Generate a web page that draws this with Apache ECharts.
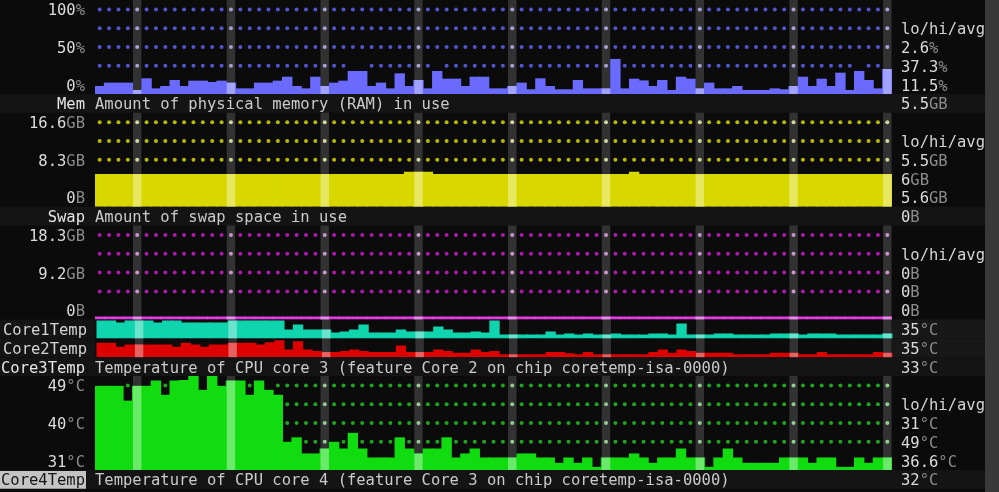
<!DOCTYPE html>
<html>
<head>
<meta charset="utf-8">
<script src="https://cdn.jsdelivr.net/npm/echarts@6/dist/echarts.min.js"></script>
<style>
  html, body { margin: 0; padding: 0; background: #0b0b0b; }
  #chart { width: 999px; height: 492px; }
</style>
</head>
<body>
<div id="chart"></div>
<script>
// one value per terminal column (85 columns), newest on the right
const cpuUsage = [
  8.5, 12.1, 12.1, 12.1, 4.3, 16.7, 6.0, 8.5, 14.9, 8.5,
  14.2, 14.2, 12.8, 14.2, 12.1, 6.0, 6.0, 12.1, 12.1, 14.2,
  18.4, 8.5, 6.0, 18.4, 8.5, 12.1, 14.2, 24.5, 24.5, 8.5,
  12.1, 6.0, 22.0, 8.5, 14.9, 6.0, 24.5, 16.3, 16.3, 8.5,
  18.4, 18.4, 6.0, 6.0, 8.5, 12.1, 5.0, 16.7, 8.5, 5.0,
  5.0, 14.9, 6.0, 6.0, 6.0, 37.3, 6.0, 16.3, 14.5, 8.5,
  14.9, 4.3, 18.4, 16.3, 6.0, 12.1, 6.0, 6.0, 8.5, 4.3,
  4.3, 4.3, 6.0, 5.0, 8.5, 18.4, 8.5, 16.3, 8.5, 22.7,
  4.3, 24.5, 14.9, 6.0, 26.6
];
const memUsed = [
  5.6, 5.6, 5.6, 5.6, 5.6, 5.6, 5.6, 5.6, 5.6, 5.6,
  5.6, 5.6, 5.6, 5.6, 5.6, 5.6, 5.6, 5.6, 5.6, 5.6,
  5.6, 5.6, 5.6, 5.6, 5.6, 5.6, 5.6, 5.6, 5.6, 5.6,
  5.6, 5.6, 5.6, 6.0, 6.0, 6.0, 5.6, 5.6, 5.6, 5.6,
  5.6, 5.6, 5.6, 5.6, 5.6, 5.6, 5.6, 5.6, 5.6, 5.6,
  5.6, 5.6, 5.6, 5.6, 5.6, 5.6, 5.6, 6.0, 5.6, 5.6,
  5.6, 5.6, 5.6, 5.6, 5.6, 5.6, 5.6, 5.6, 5.6, 5.6,
  5.6, 5.6, 5.6, 5.6, 5.6, 5.6, 5.6, 5.6, 5.6, 5.6,
  5.6, 5.6, 5.6, 5.6, 5.6
];
const swapUsed = [
  0, 0, 0, 0, 0, 0, 0, 0, 0, 0,
  0, 0, 0, 0, 0, 0, 0, 0, 0, 0,
  0, 0, 0, 0, 0, 0, 0, 0, 0, 0,
  0, 0, 0, 0, 0, 0, 0, 0, 0, 0,
  0, 0, 0, 0, 0, 0, 0, 0, 0, 0,
  0, 0, 0, 0, 0, 0, 0, 0, 0, 0,
  0, 0, 0, 0, 0, 0, 0, 0, 0, 0,
  0, 0, 0, 0, 0, 0, 0, 0, 0, 0,
  0, 0, 0, 0, 0
];
const core1Temp = [
  48, 48, 46, 48, 48, 48, 46, 48, 48, 46,
  46, 46, 46, 46, 48, 48, 48, 48, 48, 48,
  39, 44, 39, 39, 39, 36, 37, 39, 44, 36,
  36, 36, 39, 37, 37, 37, 42, 39, 36, 36,
  37, 36, 48, 34, 34, 34, 34, 34, 37, 34,
  35, 34, 35, 34, 34, 35, 34, 34, 34, 35,
  35, 34, 45, 34, 34, 34, 35, 35, 34, 34,
  34, 34, 35, 35, 35, 34, 35, 35, 35, 34,
  34, 34, 34, 34, 35
];
const core2Temp = [
  44.5, 44.5, 40.5, 42.9, 42.9, 42.9, 42.9, 42.9, 40.5, 44.5,
  42.9, 40.5, 42.9, 42.9, 44.5, 44.5, 44.5, 42.9, 45.2, 47.2,
  37.9, 46.2, 37.9, 36.2, 35.2, 35.2, 36.2, 37.9, 36.2, 35.2,
  35.2, 35.2, 41.9, 35.2, 35.2, 35.2, 37.9, 36.2, 34.5, 34.5,
  37.9, 35.2, 36.2, 32.9, 32.9, 32.9, 32.9, 32.9, 35.2, 35.2,
  33.9, 32.9, 35.2, 32.9, 32.9, 32.9, 32.9, 32.9, 32.9, 35.2,
  37.9, 34.5, 37.9, 36.2, 34.5, 34.5, 34.5, 34.5, 32.9, 32.9,
  32.9, 32.9, 34.5, 34.5, 34.5, 32.9, 32.9, 35.2, 32.9, 32.9,
  32.9, 32.9, 32.9, 35.2, 34.5
];
const core3Temp = [
  46.8, 46.8, 46.8, 43.5, 46.8, 46.8, 48.0, 44.8, 48.0, 48.1,
  49.0, 45.9, 49.0, 46.8, 48.0, 48.0, 44.8, 48.0, 45.9, 44.8,
  34.3, 35.3, 31.7, 31.7, 32.8, 34.3, 32.8, 36.3, 32.8, 30.8,
  30.8, 30.8, 35.3, 32.8, 31.7, 32.8, 32.8, 35.3, 30.8, 31.7,
  32.8, 30.8, 30.8, 30.8, 30.8, 31.7, 31.7, 30.8, 30.8, 29.6,
  30.8, 29.6, 30.8, 28.7, 30.8, 30.8, 30.8, 31.7, 30.8, 29.6,
  30.8, 30.8, 32.8, 30.8, 30.8, 28.7, 30.8, 32.8, 30.8, 29.6,
  29.6, 29.6, 29.6, 30.8, 30.8, 30.8, 29.6, 30.8, 30.8, 28.7,
  28.7, 30.8, 29.6, 30.8, 30.8
];

// time markers (highlighted columns)
const stripeColumns = [4, 14, 24, 34, 44, 54, 64, 74, 84];

// axis labels, one entry per text row of a panel (top to bottom)
const cpuTicks = ['100%', '', '50%', '', '0%'];
const memTicks = ['16.6GB', '', '8.3GB', '', '0B'];
const swapTicks = ['18.3GB', '', '9.2GB', '', '0B'];
const tempTicks = ['49°C', '', '40°C', '', '31°C'];

const cpuStats = ['', 'lo/hi/avg', '2.6%', '37.3%', '11.5%'];
const memStats = ['', 'lo/hi/avg', '5.5GB', '6GB', '5.6GB'];
const swapStats = ['', 'lo/hi/avg', '0B', '0B', '0B'];
const core3Stats = ['', 'lo/hi/avg', '31°C', '49°C', '36.6°C'];

const headers = [
  {row: 5, name: 'Mem', desc: 'Amount of physical memory (RAM) in use', value: '5.5GB'},
  {row: 11, name: 'Swap', desc: 'Amount of swap space in use', value: '0B'},
  {row: 19, name: 'Core3Temp', desc: 'Temperature of CPU core 3 (feature Core 2 on chip coretemp-isa-0000)', value: '33°C'},
  {row: 25, name: 'Core4Temp', desc: 'Temperature of CPU core 4 (feature Core 3 on chip coretemp-isa-0000)', value: '32°C', selected: true}
];

const ROW_H = 18.8;
const PLOT_LEFT = 95;
const PLOT_WIDTH = 797;
const STATS_X = 901;
const FONT = 'DejaVu Sans Mono';
const FONT_SIZE = 15.5;
const TEXT_SHIFT = 2; // glyphs sit a little low in the terminal cell

const samples = cpuUsage.map((v, i) => i);

const panels = [
  {row: 0, rows: 5, data: cpuUsage, min: 0, max: 100, color: '#6a6aff', dot: '#6666ff', dotHi: '#b4b4ff', ticks: cpuTicks, stats: cpuStats},
  {row: 6, rows: 5, data: memUsed, min: 0, max: 16.1, color: '#d8d800', dot: '#e4e400', dotHi: '#ffffa8', ticks: memTicks, stats: memStats},
  {row: 12, rows: 5, data: swapUsed, min: 0, max: 18.3, color: '#e23ce2', dot: '#d41ed4', dotHi: '#f0a0f0', minH: 3, ticks: swapTicks, stats: swapStats},
  {row: 17, rows: 1, data: core1Temp, min: 30, max: 49, color: '#10d4ae', ticks: ['Core1Temp'], stats: ['35°C']},
  {row: 18, rows: 1, data: core2Temp, min: 30, max: 49, color: '#dc0000', ticks: ['Core2Temp'], stats: ['35°C']},
  {row: 20, rows: 5, data: core3Temp, min: 28, max: 49, color: '#10dc10', dot: '#22cc22', dotHi: '#9cf09c', ticks: tempTicks, stats: core3Stats}
];

const labelRich = {
  n: {color: '#dcdcdc', fill: '#dcdcdc', fontFamily: FONT, fontSize: FONT_SIZE},
  u: {color: '#8c8c8c', fill: '#8c8c8c', fontFamily: FONT, fontSize: FONT_SIZE},
  t: {color: '#d4d4d4', fill: '#d4d4d4', fontFamily: FONT, fontSize: FONT_SIZE}
};

function splitUnit(s) {
  if (!s) return '';
  const m = /^(\d[\d.]*)(\D+)$/.exec(s);
  return m ? '{n|' + m[1] + '}{u|' + m[2] + '}' : '{t|' + s + '}';
}

// columns drawn edge to edge (slight overlap hides anti-alias seams)
function columnRenderer(p) {
  return function (params, api) {
    const i = api.value(0);
    const top = api.coord([i, api.value(1)]);
    const base = api.coord([i, p.min]);
    const w = api.size([1, 0])[0];
    const h = Math.max(p.minH || 0, base[1] - top[1]);
    return {
      type: 'rect',
      shape: {x: top[0] - w / 2 - 0.5, y: base[1] - h, width: w + 1, height: h},
      style: {fill: p.color}
    };
  };
}

function getOption() {
  const grids = [], xAxes = [], yAxes = [], series = [];

  panels.forEach((p, gi) => {
    const topPx = p.row * ROW_H;
    const hPx = p.rows * ROW_H;
    grids.push({left: PLOT_LEFT, top: topPx, width: PLOT_WIDTH, height: hPx});

    xAxes.push({gridIndex: gi, type: 'category', data: samples, show: false});
    xAxes.push({gridIndex: gi, type: 'category', data: samples, show: false});

    const labelAxis = {
      gridIndex: gi, type: 'category', inverse: true,
      axisLine: {show: false}, axisTick: {show: false}, splitLine: {show: false}
    };
    yAxes.push({gridIndex: gi, type: 'value', min: p.min, max: p.max, show: false});
    yAxes.push(Object.assign({}, labelAxis, {
      data: p.ticks, position: 'left',
      axisLabel: {interval: 0, margin: 10, padding: [TEXT_SHIFT * 2, 0, 0, 0], formatter: splitUnit, rich: labelRich}
    }));
    yAxes.push(Object.assign({}, labelAxis, {
      data: p.stats, position: 'right',
      axisLabel: {interval: 0, margin: STATS_X - PLOT_LEFT - PLOT_WIDTH, padding: [TEXT_SHIFT * 2, 0, 0, 0], align: 'left', formatter: splitUnit, rich: labelRich}
    }));

    // background dots, skipped in cells already reached by the bar
    if (p.dot) {
      const dots = [];
      for (let r = 0; r < p.rows - 1; r++) {
        const dotY = topPx + (r + 0.5) * ROW_H;
        p.data.forEach((v, i) => {
          const barH = Math.max(p.minH || 0, (v - p.min) / (p.max - p.min) * hPx);
          if (topPx + hPx - barH >= dotY + 6.5) {
            dots.push({value: [i, r], itemStyle: {color: stripeColumns.includes(i) ? p.dotHi : p.dot}});
          }
        });
      }
      series.push({
        type: 'scatter', xAxisIndex: gi * 2, yAxisIndex: gi * 3 + 1,
        data: dots, symbolSize: 4, z: 1, silent: true
      });
    }

    series.push({
      type: 'bar', xAxisIndex: gi * 2 + 1, yAxisIndex: gi * 3,
      data: samples.map(i => stripeColumns.includes(i) ? p.max : '-'),
      barWidth: '90%', barGap: '-100%', clip: true, silent: true,
      itemStyle: {color: 'rgba(255,255,255,0.16)'}, z: 2
    });
    series.push({
      type: 'custom', xAxisIndex: gi * 2, yAxisIndex: gi * 3,
      data: p.data.map((v, i) => [i, v]), encode: {x: 0, y: 1},
      renderItem: columnRenderer(p), clip: true, silent: true, z: 3
    });
    series.push({
      type: 'bar', xAxisIndex: gi * 2 + 1, yAxisIndex: gi * 3,
      data: p.data.map((v, i) => stripeColumns.includes(i) ? v : '-'),
      barWidth: '90%', barGap: '-100%', barMinHeight: p.minH || 0, clip: true, silent: true,
      itemStyle: {color: 'rgba(255,255,255,0.38)'}, z: 4
    });
  });

  // terminal row backgrounds, header lines and scrollbar
  const graphic = [];
  headers.forEach(h => {
    graphic.push({type: 'rect', shape: {x: 0, y: h.row * ROW_H, width: 985, height: ROW_H}, style: {fill: '#141414'}, z: -1});
  });
  [17, 18].forEach(r => {
    graphic.push({type: 'rect', shape: {x: 0, y: r * ROW_H, width: PLOT_LEFT, height: ROW_H}, style: {fill: '#141414'}, z: -1});
    graphic.push({type: 'rect', shape: {x: PLOT_LEFT + PLOT_WIDTH, y: r * ROW_H, width: 985 - PLOT_LEFT - PLOT_WIDTH, height: ROW_H}, style: {fill: '#181818'}, z: -1});
  });
  headers.forEach(h => {
    const y = (h.row + 0.5) * ROW_H + TEXT_SHIFT;
    if (h.selected) {
      graphic.push({type: 'rect', shape: {x: 0, y: h.row * ROW_H + 1, width: 86, height: ROW_H - 1}, style: {fill: '#c4c4c4'}, z: 0});
    }
    graphic.push({type: 'text', x: 85, y: y, z: 1, style: {
      text: h.name, fill: h.selected ? '#151515' : '#e6e6e6',
      font: FONT_SIZE + 'px "' + FONT + '"', align: 'right', verticalAlign: 'middle'
    }});
    graphic.push({type: 'text', x: PLOT_LEFT, y: y, z: 1, style: {
      text: h.desc, fill: '#cacaca',
      font: FONT_SIZE + 'px "' + FONT + '"', align: 'left', verticalAlign: 'middle'
    }});
    graphic.push({type: 'text', x: STATS_X, y: y, z: 1, style: {
      text: splitUnit(h.value), rich: labelRich, fill: '#dcdcdc',
      font: FONT_SIZE + 'px "' + FONT + '"', align: 'left', verticalAlign: 'middle'
    }});
  });
  graphic.push({type: 'rect', shape: {x: 985, y: 0, width: 14, height: 492}, style: {fill: '#393939'}, z: 5});

  return {
    backgroundColor: '#0b0b0b',
    animation: false,
    textStyle: {fontFamily: FONT, fontSize: FONT_SIZE},
    grid: grids,
    xAxis: xAxes,
    yAxis: yAxes,
    series: series,
    graphic: graphic
  };
}

const chart = echarts.init(document.getElementById('chart'));
chart.setOption(getOption());
</script>
</body>
</html>
